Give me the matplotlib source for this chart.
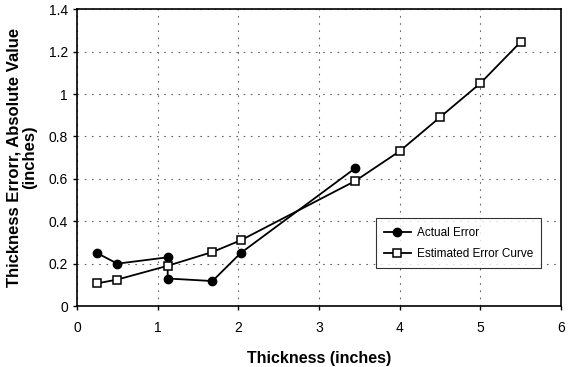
import matplotlib
matplotlib.use("Agg")
import matplotlib.pyplot as plt

plt.rcParams['font.family'] = ['Liberation Sans', 'DejaVu Sans']

# data
actual_x = [0.25, 0.5, 1.125, 1.125, 1.68, 2.03, 3.45]
actual_y = [0.25, 0.20, 0.23, 0.13, 0.118, 0.25, 0.65]

est_x = [0.25, 0.5, 1.125, 1.68, 2.03, 3.45, 4.0, 4.5, 5.0, 5.5]
est_y = [0.107, 0.125, 0.19, 0.255, 0.31, 0.59, 0.73, 0.89, 1.05, 1.245]

x_ticks = [0, 1, 2, 3, 4, 5, 6]
y_ticks = [0, 0.2, 0.4, 0.6, 0.8, 1.0, 1.2, 1.4]
y_tick_labels = ['0', '0.2', '0.4', '0.6', '0.8', '1', '1.2', '1.4']

fig = plt.figure(figsize=(5.7, 3.67), dpi=100)
ax = fig.add_axes([0.135, 0.166, 0.849, 0.809])

ax.plot(actual_x, actual_y, color='black', lw=1.3, marker='o', ms=6,
        mfc='black', mec='black', label='Actual Error', zorder=3)
ax.plot(est_x, est_y, color='black', lw=1.3, marker='s', ms=6,
        mfc='white', mec='black', mew=1.1, label='Estimated Error Curve', zorder=3)

ax.set_xlim(0, 6)
ax.set_ylim(0, 1.4)
ax.set_xticks(x_ticks)
ax.set_yticks(y_ticks)
ax.set_yticklabels(y_tick_labels)
ax.tick_params(labelsize=10, length=3, width=1, direction='out')
ax.tick_params(axis='x', pad=8)

ax.grid(True, color='#666666', linestyle=(0, (1.5, 5)), linewidth=0.8)
ax.set_axisbelow(True)
for s in ax.spines.values():
    s.set_linewidth(1.2)

ax.set_xlabel('Thickness (inches)', fontsize=11.5, fontweight='bold', labelpad=11)
ax.set_ylabel('Thickness Errorr, Absolute Value\n(inches)', fontsize=12,
              fontweight='bold', labelpad=8, linespacing=1.1)

leg = ax.legend(loc='upper left', bbox_to_anchor=(0.605, 0.315), fontsize=8.5,
                frameon=True, fancybox=False, edgecolor='black',
                handlelength=2.3, handletextpad=0.5, borderpad=0.7,
                labelspacing=0.8)
leg.get_frame().set_linewidth(0.8)

fig.savefig('out.png', dpi=100)
